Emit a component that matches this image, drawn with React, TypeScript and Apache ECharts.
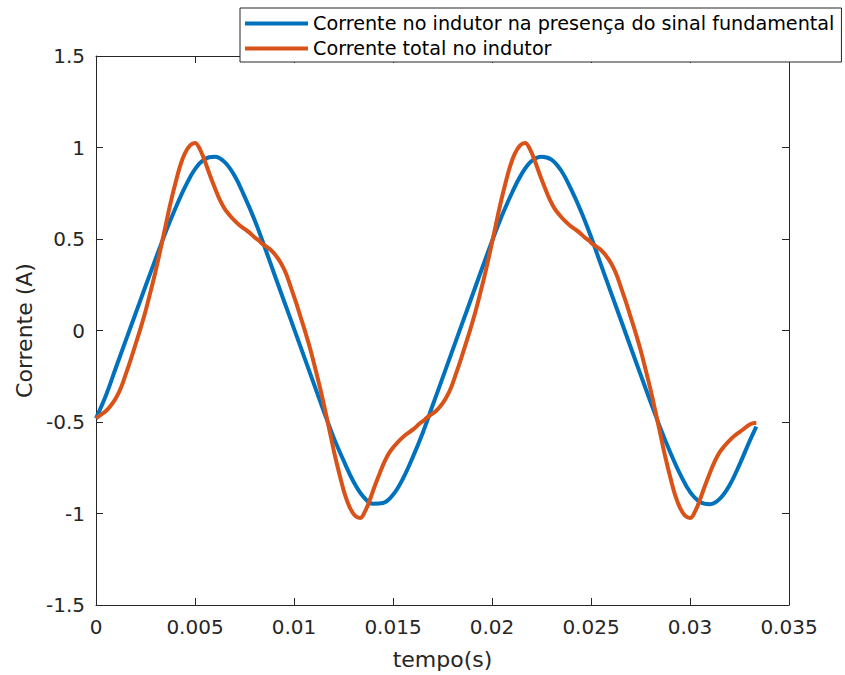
import React, { useEffect, useRef } from "react";
import * as echarts from "echarts";

// Blue curve: current with the fundamental signal only
const fundamentalTime = [
  0, 0.0005, 0.001, 0.0015, 0.002, 0.0025, 0.003, 0.0035, 0.004, 0.0045,
  0.005, 0.0055, 0.006, 0.0065, 0.007, 0.0075, 0.008, 0.0085, 0.009, 0.0095,
  0.01, 0.0105, 0.011, 0.0115, 0.012, 0.0125, 0.013, 0.0135, 0.014, 0.0145,
  0.015, 0.0155, 0.016, 0.0165, 0.017, 0.0175, 0.018, 0.0185, 0.019, 0.0195,
  0.02, 0.0205, 0.021, 0.0215, 0.022, 0.0225, 0.023, 0.0235, 0.024, 0.0245,
  0.025, 0.0255, 0.026, 0.0265, 0.027, 0.0275, 0.028, 0.0285, 0.029, 0.0295,
  0.03, 0.0305, 0.031, 0.0315, 0.032, 0.0325, 0.033, 0.03335,
];
const fundamentalCurrent = [
  -0.48, -0.355, -0.205, -0.055, 0.093, 0.242, 0.388, 0.532, 0.665, 0.785,
  0.882, 0.937, 0.949, 0.92, 0.845, 0.733, 0.607, 0.462, 0.31, 0.16,
  0.01, -0.14, -0.29, -0.44, -0.584, -0.71, -0.825, -0.908, -0.947, -0.943,
  -0.898, -0.81, -0.692, -0.56, -0.41, -0.26, -0.11, 0.04, 0.19, 0.34,
  0.488, 0.627, 0.75, 0.856, 0.926, 0.95, 0.934, 0.873, 0.771, 0.65,
  0.512, 0.36, 0.21, 0.06, -0.09, -0.24, -0.388, -0.532, -0.665, -0.785,
  -0.882, -0.937, -0.949, -0.92, -0.845, -0.733, -0.607, -0.525,
];

// Orange curve: total inductor current
const totalTime = [
  0, 0.00025, 0.0005, 0.00075, 0.001, 0.00125, 0.0015, 0.00175, 0.002, 0.00225,
  0.0025, 0.00275, 0.003, 0.00325, 0.0035, 0.00375, 0.004, 0.00425, 0.0045, 0.00475,
  0.005, 0.00525, 0.0055, 0.00575, 0.006, 0.00625, 0.0065, 0.00675, 0.007, 0.00725,
  0.0075, 0.00775, 0.008, 0.00825,
  0.00833, 0.00858, 0.00883, 0.00908, 0.00933, 0.00958, 0.00983, 0.01008, 0.01033, 0.01058,
  0.01083, 0.01108, 0.01133, 0.01158, 0.01183, 0.01208, 0.01233, 0.01258, 0.01283, 0.01308,
  0.01333, 0.01358, 0.01383, 0.01408, 0.01433, 0.01458, 0.01483, 0.01508, 0.01533, 0.01558,
  0.01583, 0.01608, 0.01633, 0.01658,
  0.01667, 0.01692, 0.01717, 0.01742, 0.01767, 0.01792, 0.01817, 0.01842, 0.01867, 0.01892,
  0.01917, 0.01942, 0.01967, 0.01992, 0.02017, 0.02042, 0.02067, 0.02092, 0.02117, 0.02142,
  0.02167, 0.02192, 0.02217, 0.02242, 0.02267, 0.02292, 0.02317, 0.02342, 0.02367, 0.02392,
  0.02417, 0.02442, 0.02467, 0.02492,
  0.025, 0.02525, 0.0255, 0.02575, 0.026, 0.02625, 0.0265, 0.02675, 0.027, 0.02725,
  0.0275, 0.02775, 0.028, 0.02825, 0.0285, 0.02875, 0.029, 0.02925, 0.0295, 0.02975,
  0.03, 0.03025, 0.0305, 0.03075, 0.031, 0.03125, 0.0315, 0.03175, 0.032, 0.03225,
  0.0325, 0.03275, 0.033, 0.03325, 0.03335,
];
const totalCurrent = [
  -0.48, -0.46, -0.44, -0.41, -0.37, -0.315, -0.24, -0.16, -0.075, 0.012,
  0.105, 0.21, 0.32, 0.44, 0.565, 0.69, 0.8, 0.9, 0.97, 1.012,
  1.025, 0.99, 0.925, 0.85, 0.78, 0.715, 0.665, 0.63, 0.6, 0.575,
  0.555, 0.535, 0.51, 0.49,
  0.48, 0.46, 0.44, 0.41, 0.37, 0.315, 0.24, 0.16, 0.075, -0.012,
  -0.105, -0.21, -0.32, -0.44, -0.565, -0.69, -0.8, -0.9, -0.97, -1.012,
  -1.025, -0.99, -0.925, -0.85, -0.78, -0.715, -0.665, -0.63, -0.6, -0.575,
  -0.555, -0.535, -0.51, -0.49,
  -0.48, -0.46, -0.44, -0.41, -0.37, -0.315, -0.24, -0.16, -0.075, 0.012,
  0.105, 0.21, 0.32, 0.44, 0.565, 0.69, 0.8, 0.9, 0.97, 1.012,
  1.025, 0.99, 0.925, 0.85, 0.78, 0.715, 0.665, 0.63, 0.6, 0.575,
  0.555, 0.535, 0.51, 0.49,
  0.48, 0.46, 0.44, 0.41, 0.37, 0.315, 0.24, 0.16, 0.075, -0.012,
  -0.105, -0.21, -0.32, -0.44, -0.565, -0.69, -0.8, -0.9, -0.97, -1.012,
  -1.025, -0.99, -0.925, -0.85, -0.78, -0.715, -0.665, -0.63, -0.6, -0.575,
  -0.555, -0.535, -0.515, -0.505, -0.505,
];

const seriesNames = [
  "Corrente no indutor na presença do sinal fundamental",
  "Corrente total no indutor",
];
const seriesColors = ["#0072BD", "#D95319"];

const xLabel = "tempo(s)";
const yLabel = "Corrente (A)";

const FONT = "DejaVu Sans";
const AXIS_COLOR = "#262626";

export default function App() {
  const ref = useRef<HTMLDivElement>(null);

  useEffect(() => {
    if (!ref.current) return;
    const chart = echarts.init(ref.current, undefined, { renderer: "svg" });

    const axisLine = { show: true, onZero: false, lineStyle: { color: AXIS_COLOR, width: 1 } };
    const axisTick = { show: true, inside: true, length: 7, lineStyle: { color: AXIS_COLOR, width: 1 } };
    const fmt = (v: number) => String(parseFloat(v.toFixed(4)));
    const pairs = (ts: number[], vs: number[]) => ts.map((t, i) => [t, vs[i]]);

    chart.setOption({
      animation: false,
      backgroundColor: "#ffffff",
      textStyle: { fontFamily: FONT },
      grid: { left: 96, top: 56, width: 693, height: 549, show: false },
      legend: {
        show: true,
        orient: "vertical",
        left: 240,
        top: 8,
        backgroundColor: "#ffffff",
        borderColor: AXIS_COLOR,
        borderWidth: 1,
        borderRadius: 0,
        padding: [6, 7, 4, 5],
        itemGap: 6,
        itemWidth: 63,
        itemHeight: 4,
        icon: "rect",
        textStyle: { fontFamily: FONT, fontSize: 19.2, color: "#000000" },
        data: seriesNames,
      },
      xAxis: [
        {
          type: "value",
          position: "bottom",
          min: 0,
          max: 0.035,
          interval: 0.005,
          axisLine,
          axisTick,
          splitLine: { show: false },
          axisLabel: { color: AXIS_COLOR, fontFamily: FONT, fontSize: 20, margin: 12, formatter: fmt },
          name: xLabel,
          nameLocation: "middle",
          nameGap: 43,
          nameTextStyle: { color: AXIS_COLOR, fontFamily: FONT, fontSize: 22 },
        },
        {
          type: "value",
          position: "top",
          min: 0,
          max: 0.035,
          interval: 0.005,
          axisLine,
          axisTick,
          splitLine: { show: false },
          axisLabel: { show: false },
        },
      ],
      yAxis: [
        {
          type: "value",
          position: "left",
          min: -1.5,
          max: 1.5,
          interval: 0.5,
          axisLine,
          axisTick,
          splitLine: { show: false },
          axisLabel: { color: AXIS_COLOR, fontFamily: FONT, fontSize: 20, margin: 11, formatter: fmt },
          name: yLabel,
          nameLocation: "middle",
          nameGap: 60,
          nameRotate: 90,
          nameTextStyle: { color: AXIS_COLOR, fontFamily: FONT, fontSize: 22 },
        },
        {
          type: "value",
          position: "right",
          min: -1.5,
          max: 1.5,
          interval: 0.5,
          axisLine,
          axisTick,
          splitLine: { show: false },
          axisLabel: { show: false },
        },
      ],
      series: [
        {
          name: seriesNames[0],
          type: "line",
          data: pairs(fundamentalTime, fundamentalCurrent),
          smooth: 0.4,
          symbol: "none",
          lineStyle: { color: seriesColors[0], width: 4 },
          itemStyle: { color: seriesColors[0] },
          z: 2,
        },
        {
          name: seriesNames[1],
          type: "line",
          data: pairs(totalTime, totalCurrent),
          smooth: 0.4,
          symbol: "none",
          lineStyle: { color: seriesColors[1], width: 4 },
          itemStyle: { color: seriesColors[1] },
          z: 3,
        },
      ],
    });

    return () => chart.dispose();
  }, []);

  return (
    <div
      ref={ref}
      style={{ position: "fixed", left: 0, top: 0, width: 845, height: 675, background: "#fff" }}
    />
  );
}
